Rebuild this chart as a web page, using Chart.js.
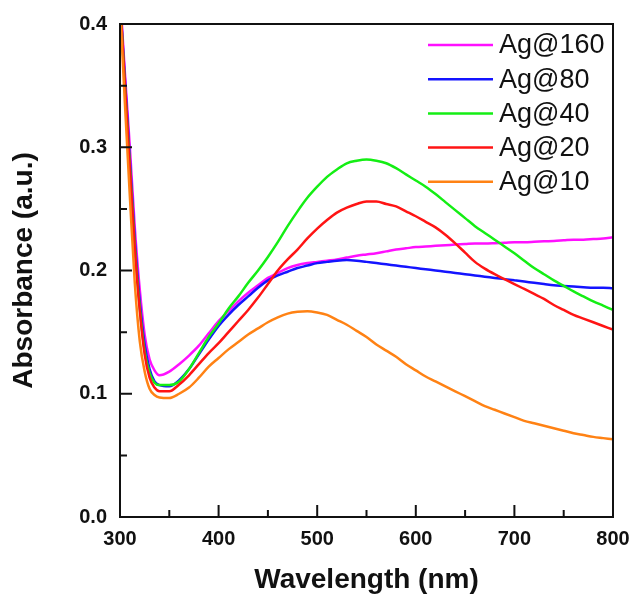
<!DOCTYPE html>
<html>
<head>
<meta charset="utf-8">
<script src="https://cdn.jsdelivr.net/npm/chart.js@4/dist/chart.umd.min.js"></script>
<style>
  html, body { margin: 0; padding: 0; background: #ffffff; }
  #wrap { width: 633px; height: 595px; }
</style>
</head>
<body>
<div id="wrap"><canvas id="c" width="633" height="595"></canvas></div>
<script>
// ---- data ----
const wavelengths = [300,305,310,315,320,325,330,335,340,
  350,360,370,380,390,400,410,420,430,440,450,460,470,480,490,500,
  510,520,530,540,550,560,570,580,590,600,610,620,630,640,650,660,
  670,680,690,700,710,720,730,740,750,760,770,780,790,800];

const seriesNames = ['Ag@160','Ag@80','Ag@40','Ag@20','Ag@10'];
const seriesColors = ['#ff10ff','#1414ff','#14ee14','#ff1414','#ff8214'];

const ag160 = [0.425,0.36,0.30,0.235,0.185,0.148,0.128,0.119,0.115,
  0.118,0.124,0.131,0.139,0.149,0.159,0.167,0.175,0.182,0.188,0.194,0.198,0.202,0.2045,0.206,0.207,
  0.208,0.209,0.2105,0.212,0.213,0.214,0.2155,0.217,0.218,0.219,0.2195,0.220,0.2205,0.221,0.2215,0.222,
  0.222,0.2222,0.2225,0.223,0.223,0.2233,0.2237,0.224,0.2245,0.225,0.225,0.2255,0.226,0.227];
const ag80 = [0.42,0.355,0.29,0.225,0.175,0.140,0.120,0.110,0.107,
  0.106,0.111,0.120,0.132,0.144,0.155,0.164,0.172,0.179,0.186,0.192,0.196,0.199,0.202,0.204,0.206,
  0.207,0.208,0.2085,0.208,0.207,0.206,0.205,0.204,0.203,0.202,0.201,0.200,0.199,0.198,0.197,0.196,
  0.195,0.194,0.193,0.192,0.191,0.190,0.189,0.188,0.1875,0.187,0.1865,0.186,0.186,0.1855];
const ag40 = [0.42,0.35,0.285,0.22,0.17,0.135,0.117,0.109,0.107,
  0.107,0.110,0.120,0.133,0.146,0.157,0.169,0.179,0.190,0.200,0.211,0.223,0.236,0.248,0.259,0.268,
  0.276,0.282,0.287,0.289,0.290,0.289,0.287,0.283,0.278,0.273,0.268,0.262,0.2555,0.249,0.2425,0.236,
  0.2305,0.225,0.2195,0.214,0.208,0.202,0.197,0.192,0.1875,0.183,0.179,0.175,0.1715,0.168];
const ag20 = [0.42,0.35,0.283,0.218,0.168,0.132,0.113,0.105,0.102,
  0.102,0.1075,0.115,0.124,0.133,0.141,0.150,0.159,0.168,0.178,0.189,0.200,0.209,0.217,0.226,0.234,
  0.241,0.247,0.251,0.254,0.256,0.256,0.254,0.252,0.248,0.244,0.2395,0.235,0.229,0.222,0.2145,0.207,
  0.2015,0.197,0.193,0.189,0.185,0.181,0.177,0.172,0.168,0.164,0.161,0.158,0.155,0.152];
const ag10 = [0.415,0.335,0.26,0.19,0.143,0.118,0.104,0.099,0.097,
  0.0965,0.100,0.105,0.113,0.122,0.129,0.136,0.142,0.148,0.153,0.158,0.162,0.165,0.1665,0.167,0.166,
  0.164,0.160,0.156,0.151,0.146,0.140,0.135,0.130,0.124,0.119,0.114,0.110,0.106,0.102,0.098,0.094,
  0.090,0.087,0.084,0.081,0.078,0.076,0.074,0.072,0.070,0.068,0.0665,0.065,0.064,0.063];

const xMin = 300, xMax = 800, xMajor = 100, xMinor = 50;
const yMin = 0, yMax = 0.4, yMajor = 0.1, yMinor = 0.05;
const xTitle = 'Wavelength (nm)';
const yTitle = 'Absorbance (a.u.)';

// ---- build datasets ----
const seriesValues = [ag160, ag80, ag40, ag20, ag10];
const datasets = seriesValues.map((vals, i) => ({
  label: seriesNames[i],
  data: wavelengths.map((w, j) => ({ x: w, y: vals[j] })),
  borderColor: seriesColors[i],
  backgroundColor: seriesColors[i],
  borderWidth: 2.5,
  pointRadius: 0,
  fill: false,
  cubicInterpolationMode: 'monotone',
  clip: 0
}));
datasets.reverse();

function isMajor(v, step) {
  const r = v / step;
  return Math.abs(r - Math.round(r)) < 1e-6;
}

const whiteBg = {
  id: 'whiteBg',
  beforeDraw(chart) {
    const ctx = chart.ctx;
    ctx.save();
    ctx.fillStyle = '#ffffff';
    ctx.fillRect(0, 0, chart.width, chart.height);
    ctx.restore();
  }
};

const frameAndTicks = {
  id: 'frameAndTicks',
  afterDatasetsDraw(chart) {
    const ctx = chart.ctx;
    const a = chart.chartArea;
    const xs = chart.scales.x, ys = chart.scales.y;
    ctx.save();
    ctx.strokeStyle = '#111111';
    ctx.lineWidth = 2;
    ctx.strokeRect(a.left, a.top, a.right - a.left, a.bottom - a.top);
    ctx.beginPath();
    xs.ticks.forEach(t => {
      const px = xs.getPixelForValue(t.value);
      const len = isMajor(t.value, xMajor) ? 12 : 7;
      ctx.moveTo(px, a.bottom);
      ctx.lineTo(px, a.bottom - len);
    });
    ys.ticks.forEach(t => {
      const py = ys.getPixelForValue(t.value);
      const len = isMajor(t.value, yMajor) ? 12 : 7;
      ctx.moveTo(a.left, py);
      ctx.lineTo(a.left + len, py);
    });
    ctx.stroke();
    ctx.restore();
  }
};

const insideLegend = {
  id: 'insideLegend',
  afterDatasetsDraw(chart) {
    const ctx = chart.ctx;
    const a = chart.chartArea;
    ctx.save();
    ctx.font = '27px "Liberation Sans", Arial, sans-serif';
    ctx.textBaseline = 'middle';
    ctx.textAlign = 'left';
    const x0 = a.right - 185, x1 = a.right - 120, tx = a.right - 114;
    const y0 = a.top + 21, dy = 34.2;
    seriesNames.forEach((name, i) => {
      const y = y0 + i * dy;
      ctx.strokeStyle = seriesColors[i];
      ctx.lineWidth = 2.5;
      ctx.beginPath();
      ctx.moveTo(x0, y);
      ctx.lineTo(x1, y);
      ctx.stroke();
      ctx.fillStyle = '#111111';
      ctx.fillText(name, tx, y + 1);
    });
    ctx.restore();
  }
};

new Chart(document.getElementById('c'), {
  type: 'line',
  data: { datasets },
  options: {
    responsive: false,
    animation: false,
    devicePixelRatio: 1,
    layout: { padding: { left: 0, right: 20, top: 24, bottom: 0 } },
    plugins: {
      legend: { display: false },
      tooltip: { enabled: false }
    },
    scales: {
      x: {
        type: 'linear',
        min: xMin, max: xMax,
        afterFit(scale) { scale.height = 78; scale.paddingRight = 0; scale.paddingLeft = 0; },
        grid: { display: false, drawTicks: false },
        border: { display: false },
        ticks: {
          stepSize: xMinor,
          autoSkip: false,
          maxRotation: 0,
          padding: 10,
          color: '#111111',
          font: { family: '"Liberation Sans", Arial, sans-serif', size: 20, weight: 'bold' },
          callback: v => isMajor(v, xMajor) ? String(v) : ''
        },
        title: {
          display: true,
          text: xTitle,
          color: '#111111',
          padding: { top: 0, bottom: 1 },
          font: { family: '"Liberation Sans", Arial, sans-serif', size: 28, weight: 'bold', lineHeight: 1 }
        }
      },
      y: {
        type: 'linear',
        min: yMin, max: yMax,
        afterFit(scale) { scale.width = 120; scale.paddingTop = 0; scale.paddingBottom = 0; },
        grid: { display: false, drawTicks: false },
        border: { display: false },
        ticks: {
          stepSize: yMinor,
          autoSkip: false,
          padding: 13,
          color: '#111111',
          font: { family: '"Liberation Sans", Arial, sans-serif', size: 20, weight: 'bold' },
          callback: v => isMajor(v, yMajor) ? v.toFixed(1) : ''
        },
        title: {
          display: true,
          text: yTitle,
          color: '#111111',
          padding: { top: 10, bottom: 0 },
          font: { family: '"Liberation Sans", Arial, sans-serif', size: 28, weight: 'bold', lineHeight: 1 }
        }
      }
    }
  },
  plugins: [whiteBg, frameAndTicks, insideLegend]
});
</script>
</body>
</html>
